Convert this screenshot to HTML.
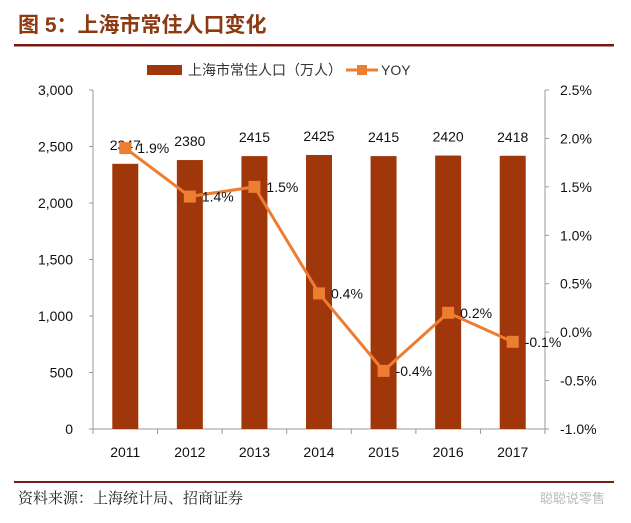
<!DOCTYPE html>
<html><head><meta charset="utf-8"><style>
body{margin:0;background:#fff;width:631px;height:518px;overflow:hidden;font-family:"Liberation Sans","Noto Sans CJK SC",sans-serif;}
</style></head><body>
<svg width="631" height="518" xmlns="http://www.w3.org/2000/svg">
<text x="18" y="32" font-size="21" font-weight="bold" fill="#8B3A12" font-family="'Liberation Sans','Noto Sans CJK SC',sans-serif">图 5：上海市常住人口变化</text>
<rect x="14" y="44" width="600" height="2.5" fill="#7a1a14"/>
<g>
<rect x="147" y="65" width="35" height="10" fill="#A0370A"/>
<text x="188" y="75" font-size="14" fill="#333">上海市常住人口（万人）</text>
<line x1="346" y1="70" x2="378" y2="70" stroke="#ED7D31" stroke-width="3"/>
<rect x="357" y="65" width="10" height="10" fill="#ED7D31"/>
<text x="381" y="75" font-size="14" fill="#333">YOY</text>
</g>
<g id="plot"></g>
<rect x="14" y="481" width="600" height="2" fill="#7a1a14"/>
<text x="18" y="503" font-size="15" fill="#222" font-family="'Liberation Serif','Noto Serif CJK SC',serif">资料来源：上海统计局、招商证券</text>
<text x="540" y="503" font-size="13" fill="#bbb">聪聪说零售</text>
</svg>
<script>
const categories=["2011","2012","2013","2014","2015","2016","2017"];
const population=[2347,2380,2415,2425,2415,2420,2418];
const yoy=[1.9,1.4,1.5,0.4,-0.4,0.2,-0.1];
const yoyLabels=["1.9%","1.4%","1.5%","0.4%","-0.4%","0.2%","-0.1%"];
const leftTicks=[0,500,1000,1500,2000,2500,3000];
const rightTicks=[-1,-0.5,0,0.5,1,1.5,2,2.5];
const NS="http://www.w3.org/2000/svg";
const g=document.getElementById('plot');
const X0=93,X1=545,Y0=429,Y1=90;
const yL=v=>Y0-(v/3000)*(Y0-Y1);
const yR=v=>Y0-((v+1)/3.5)*(Y0-Y1);
const band=(X1-X0)/categories.length;
const xc=i=>X0+band*(i+0.5);
function mk(t,a,txt){const e=document.createElementNS(NS,t);for(const k in a)e.setAttribute(k,a[k]);if(txt!==undefined)e.textContent=txt;g.appendChild(e);return e;}
let e;
e=mk('line',{x1:X0,y1:Y1,x2:X0,y2:Y0,stroke:'#999'});


e=mk('line',{x1:X1,y1:Y1,x2:X1,y2:Y0,stroke:'#999'});


e=mk('line',{x1:X0,y1:Y0,x2:X1,y2:Y0,stroke:'#999'});


leftTicks.forEach(v=>{const y=yL(v);
mk('line',{x1:X0-4,y1:y,x2:X0,y2:y,stroke:'#999'});
e=mk('text',{x:X0-20,y:y+5,'font-size':14,'text-anchor':'end',fill:'#111'},v.toLocaleString('en-US'));

});
rightTicks.forEach(v=>{const y=yR(v);
mk('line',{x1:X1,y1:y,x2:X1+4,y2:y,stroke:'#999'});
e=mk('text',{x:X1+15,y:y+5,'font-size':14,fill:'#111'},v.toFixed(1)+'%');

});
for(let i=0;i<=categories.length;i++){mk('line',{x1:X0+band*i,y1:Y0,x2:X0+band*i,y2:Y0+5,stroke:'#999'});}
categories.forEach((c,i)=>{
e=mk('rect',{x:xc(i)-13,y:yL(population[i]),width:26,height:Y0-yL(population[i]),fill:'#A0370A'});


e=mk('text',{x:xc(i),y:yL(population[i])-14,'font-size':14,'text-anchor':'middle',fill:'#111'},population[i]);


e=mk('text',{x:xc(i),y:Y0+28,'font-size':14,'text-anchor':'middle',fill:'#111'},c);


});
e=mk('polyline',{points:yoy.map((v,i)=>xc(i)+','+yR(v)).join(' '),fill:'none',stroke:'#ED7D31','stroke-width':3});


yoy.forEach((v,i)=>{
e=mk('rect',{x:xc(i)-6,y:yR(v)-6,width:12,height:12,fill:'#ED7D31'});


e=mk('text',{x:xc(i)+12,y:yR(v)+5,'font-size':14,fill:'#111'},yoyLabels[i]);


});
</script>
</body></html>
